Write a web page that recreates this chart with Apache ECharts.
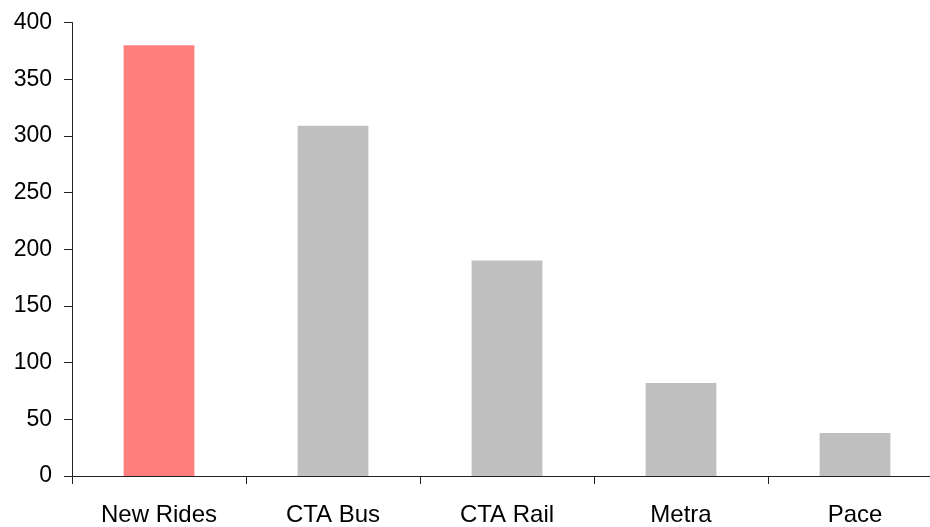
<!DOCTYPE html>
<html><head><meta charset="utf-8">
<script src="https://cdn.jsdelivr.net/npm/echarts@6/dist/echarts.min.js"></script>
<style>html,body{margin:0;padding:0;background:#fff;overflow:hidden;width:930px;height:527px}#c{width:942px;height:527px}</style>
</head><body><div id="c"></div>
<script>
var categories = ["New Rides", "CTA Bus", "CTA Rail", "Metra", "Pace"];
var values = [380, 309, 190, 82, 38];
var barColors = ["#FF7F7F", "#C0C0C0", "#C0C0C0", "#C0C0C0", "#C0C0C0"];
var yTicks = {min: 0, max: 400, interval: 50};

var chart = echarts.init(document.getElementById('c'), null, {renderer: 'canvas'});
chart.setOption({
  animation: false,
  backgroundColor: '#fff',
  grid: {left: 72, right: 0, top: 22.5, bottom: 49.5, containLabel: false},
  xAxis: {
    type: 'category',
    data: categories,
    axisLine: {lineStyle: {color: '#222', width: 1}},
    axisTick: {show: true, length: 8, inside: false, alignWithLabel: false, lineStyle: {color: '#222'}},
    axisLabel: {color: '#000', fontFamily: 'Liberation Sans, Arial', fontSize: 24, margin: 27, interval: 0},
    splitLine: {show: false}
  },
  yAxis: {
    type: 'value',
    min: yTicks.min, max: yTicks.max, interval: yTicks.interval,
    axisLine: {show: true, lineStyle: {color: '#222', width: 1}},
    axisTick: {show: true, length: 8, lineStyle: {color: '#222'}},
    axisLabel: {color: '#000', fontFamily: 'Liberation Sans, Arial', fontSize: 23, margin: 20},
    splitLine: {show: false}
  },
  series: [{
    type: 'bar',
    barWidth: '40.7%',
    data: values.map(function(v, i){ return {value: v, itemStyle: {color: barColors[i]}}; })
  }]
});
</script></body></html>
